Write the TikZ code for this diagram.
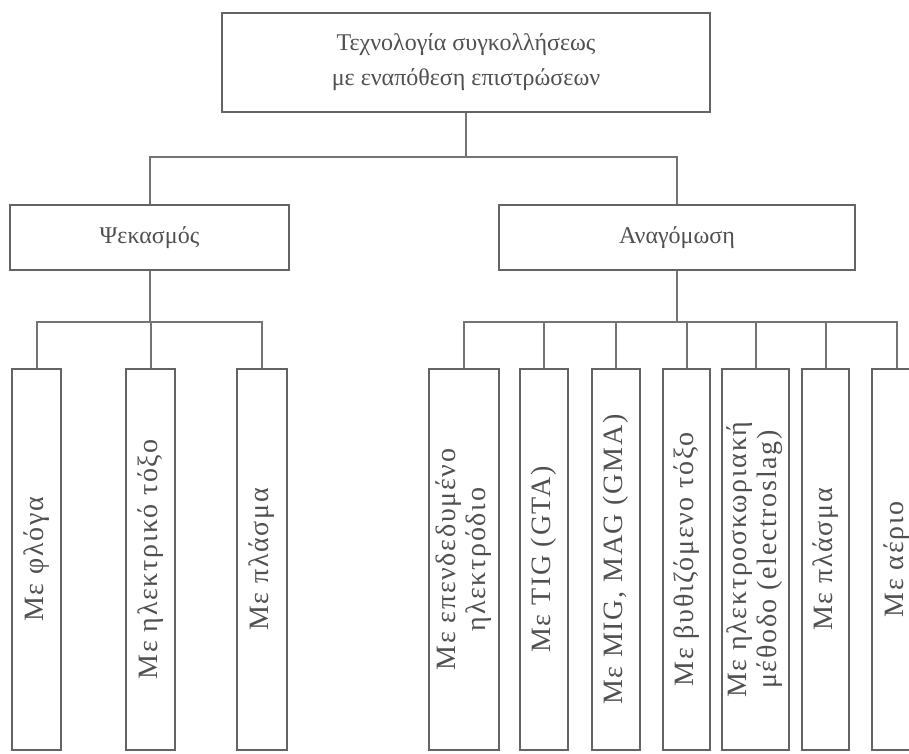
\documentclass[tikz,border=0pt]{standalone}
\usepackage{fontspec}
\setmainfont{Liberation Serif}
\newcommand{\myvtx}{\fontsize{28}{30}\selectfont\addfontfeature{LetterSpace=6}}
\begin{document}
\begin{tikzpicture}[x=1pt,y=-1pt,
  box/.style={draw=boxgray,line width=2.8pt,fill=white,inner sep=0pt,text=txtgray,align=center},
  conn/.style={draw=lngray,line width=2pt}
]
\definecolor{boxgray}{RGB}{100,100,100}
\definecolor{lngray}{RGB}{115,115,115}
\definecolor{txtgray}{RGB}{80,80,80}
\useasboundingbox (0,0) rectangle (909,753);
\clip (0,0) rectangle (909,753);
% top
\node[box,minimum width=488pt,minimum height=99pt,font=\fontsize{24}{35}\selectfont] (top) at (466,62.5)
  {Τεχνολογία συγκολλήσεως\\με εναπόθεση επιστρώσεων};
% level 1
\node[box,minimum width=279pt,minimum height=65pt,font=\fontsize{24}{30}\selectfont] (psek) at (149.5,237.5) {Ψεκασμός};
\node[box,minimum width=356pt,minimum height=65pt,font=\fontsize{24}{30}\selectfont] (anag) at (677,237.5) {Αναγόμωση};
\coordinate (b1) at (0,157);
\coordinate (b2) at (0,322);
% level 2 left
\node[box,minimum width=49pt,minimum height=381pt] (c1) at (36.5,559.5) {\rotatebox{90}{\myvtx Με φλόγα}};
\node[box,minimum width=49pt,minimum height=381pt] (c2) at (150.5,559.5) {\rotatebox{90}{\myvtx Με ηλεκτρικό τόξο}};
\node[box,minimum width=50pt,minimum height=381pt] (c3) at (262,559.5) {\rotatebox{90}{\myvtx Με πλάσμα}};
% level 2 right
\node[box,minimum width=70pt,minimum height=381pt] (c4) at (464,559.5) {\rotatebox{90}{\myvtx\begin{tabular}{@{}c@{}}Με επενδεδυμένο\\ηλεκτρόδιο\end{tabular}}};
\node[box,minimum width=48pt,minimum height=381pt] (c5) at (544,559.5) {\rotatebox{90}{\myvtx Με TIG (GTA)}};
\node[box,minimum width=48pt,minimum height=381pt] (c6) at (616,559.5) {\rotatebox{90}{\myvtx Με MIG, MAG (GMA)}};
\node[box,minimum width=47pt,minimum height=381pt] (c7) at (686.5,559.5) {\rotatebox{90}{\myvtx Με βυθιζόμενο τόξο}};
\node[box,minimum width=67pt,minimum height=381pt] (c8) at (755.5,559.5) {\rotatebox{90}{\myvtx\begin{tabular}{@{}c@{}}Με ηλεκτροσκωριακή\\μέθοδο (electroslag)\end{tabular}}};
\node[box,minimum width=47pt,minimum height=381pt] (c9) at (825.5,559.5) {\rotatebox{90}{\myvtx Με πλάσμα}};
\node[box,minimum width=49pt,minimum height=381pt] (c10) at (896.5,559.5) {\rotatebox{90}{\myvtx Με αέριο}};
% connectors
\draw[conn] (top.south) -- (top.south |- b1);
\draw[conn] (psek.north) |- (anag.north |- b1) -- (anag.north);
\draw[conn] (psek.south) -- (psek.south |- b2);
\draw[conn] (c1.north) |- (c3.north |- b2) -- (c3.north);
\draw[conn] (c2.north) -- (c2.north |- b2);
\draw[conn] (anag.south) -- (anag.south |- b2);
\draw[conn] (c4.north) |- (c10.north |- b2) -- (c10.north);
\foreach \n in {c5,c6,c7,c8,c9} \draw[conn] (\n.north) -- (\n.north |- b2);
\end{tikzpicture}
\end{document}
